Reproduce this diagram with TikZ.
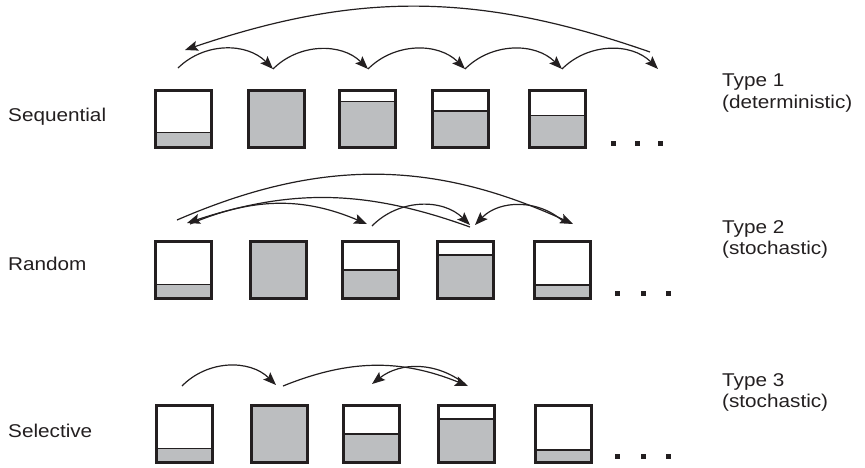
\documentclass[tikz,border=0pt]{standalone}
\usepackage{fontspec}
\setmainfont{Liberation Sans}[FakeStretch=1.12]
\usetikzlibrary{arrows.meta}
\definecolor{ink}{HTML}{231F20}
\definecolor{cellgray}{HTML}{BCBEC0}
\begin{document}
\begin{tikzpicture}[x=1pt,y=-1pt,
  cell/.style={draw=ink, line width=3pt, fill=white, minimum width=56pt, minimum height=57pt, inner sep=0pt},
  level/.style={path picture={
    \fill[cellgray] (path picture bounding box.south west) rectangle ([yshift=#1]path picture bounding box.south east);
    \draw[ink, line width=1.2pt] ([yshift=#1]path picture bounding box.south west) -- ([yshift=#1]path picture bounding box.south east);}},
  dot/.style={fill=ink, minimum size=5pt, inner sep=0pt},
  arr/.style={draw=ink, line width=1.2pt, -{Stealth[length=13pt,width=10pt,inset=2.5pt]}},
  lbl/.style={font=\fontsize{18.5}{21.5}\selectfont, text=ink, inner sep=0pt, anchor=base west, align=left}]
\useasboundingbox (0,0) rectangle (865,467);

% labels
\node[lbl] (s1) at (8,121) {Sequential};
\node[lbl] (s2) at (8,270) {Random};
\node[lbl] (s3) at (8,437) {Selective};
\node[lbl] (t1) at (722,108) {Type 1\\(deterministic)};
\node[lbl] (t2) at (722,254.5) {Type 2\\(stochastic)};
\node[lbl] (t3) at (722,407.5) {Type 3\\(stochastic)};

% row 1
\node[cell, level=14.8pt] (r1c1) at (183.4,119) {};
\node[cell, level=57pt]   (r1c2) at (276.3,119) {};
\node[cell, level=45.8pt] (r1c3) at (367.5,119) {};
\node[cell, level=36.5pt] (r1c4) at (460.8,119) {};
\node[cell, level=31.8pt] (r1c5) at (557.2,119) {};
\node[dot] (d11) at (613,143) {};
\node[dot] (d12) at (637,143) {};
\node[dot] (d13) at (660,143) {};

% row 2
\node[cell, level=14.2pt] (r2c1) at (183.5,270) {};
\node[cell, level=57pt]   (r2c2) at (278,270) {};
\node[cell, level=28.5pt] (r2c3) at (370.3,270) {};
\node[cell, level=43.5pt] (r2c4) at (465,270) {};
\node[cell, level=13.5pt] (r2c5) at (562.7,270) {};
\node[dot] (d21) at (617,293) {};
\node[dot] (d22) at (643,293) {};
\node[dot] (d23) at (668,293) {};

% row 3
\node[cell, level=13.8pt] (r3c1) at (184,434) {};
\node[cell, level=57pt]   (r3c2) at (279,434) {};
\node[cell, level=28.5pt] (r3c3) at (371,434) {};
\node[cell, level=43.5pt] (r3c4) at (466,434) {};
\node[cell, level=12.5pt] (r3c5) at (563.5,434) {};
\node[dot] (d31) at (617,456) {};
\node[dot] (d32) at (643,456) {};
\node[dot] (d33) at (668,456) {};

% row 1 arrows
\coordinate (p10) at (178,68);
\coordinate (p11) at (273,69);
\coordinate (p12) at (368,69);
\coordinate (p13) at (465,69);
\coordinate (p14) at (562,69);
\coordinate (p15) at (658,69);
\coordinate (q1s) at (650,52);
\coordinate (q1e) at (185,50);
\draw[arr] (p10) to[bend left=45] (p11);
\draw[arr] (p11) to[bend left=45] (p12);
\draw[arr] (p12) to[bend left=45] (p13);
\draw[arr] (p13) to[bend left=45] (p14);
\draw[arr] (p14) to[bend left=45] (p15);
\draw[arr] (q1s) to[bend right=19] (q1e);

% row 2 arrows
\coordinate (a2s) at (177,220);
\coordinate (a2e) at (573,224);
\coordinate (b2s) at (565,223);
\coordinate (b2e) at (475,225);
\coordinate (c2s) at (470,227);
\coordinate (c2e) at (187,223);
\coordinate (d2s) at (190,224);
\coordinate (d2e) at (367,224);
\coordinate (e2s) at (372,226);
\coordinate (e2e) at (470,225);
\draw[arr] (a2s) to[bend left=24] (a2e);
\draw[arr] (b2s) to[bend right=45] (b2e);
\draw[arr] (c2s) to[bend right=19] (c2e);
\draw[arr] (d2s) to[bend left=23] (d2e);
\draw[arr] (e2s) to[bend left=45] (e2e);

% row 3 arrows
\coordinate (a3s) at (182,386);
\coordinate (a3e) at (276,385);
\coordinate (b3s) at (283,386);
\coordinate (b3e) at (468,386);
\coordinate (c3s) at (465,384);
\coordinate (c3e) at (372,384);
\draw[arr] (a3s) to[bend left=45] (a3e);
\draw[arr] (b3s) to[bend left=22] (b3e);
\draw[arr] (c3s) to[bend right=38] (c3e);
\end{tikzpicture}
\end{document}
